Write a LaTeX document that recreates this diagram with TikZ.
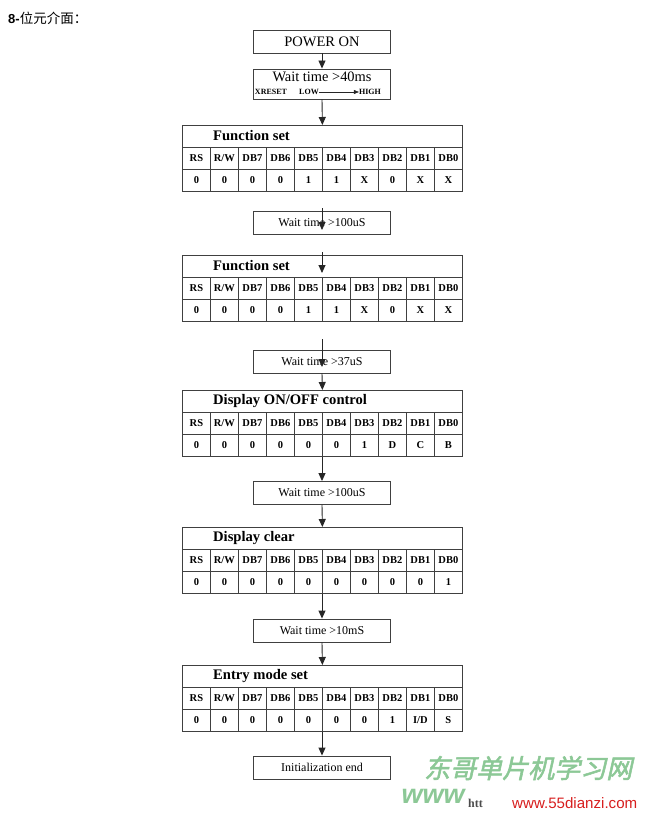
\documentclass[tikz,border=0pt]{standalone}
\usepackage{fontspec}
\setmainfont{Liberation Serif}
\newfontfamily\cjk{Noto Sans CJK SC}
\newfontfamily\cjkwm[FakeSlant=0.22,FakeBold=2]{Noto Sans CJK SC}
\newfontfamily\arialf{Liberation Sans}
\newfontfamily\arialwm[FakeSlant=0.2]{Liberation Sans}
\usetikzlibrary{arrows.meta}
\definecolor{lc}{gray}{0.25}
\definecolor{wmgreen}{RGB}{140,200,150}
\definecolor{wmred}{RGB}{215,30,30}
\newcommand\mytable[4]{%
  \node[ttl] (#1) at (182,#2) {};
  \node[anchor=west,font=\fontsize{14.6}{16}\selectfont\bfseries,inner sep=0pt] (#1t) at (213,#2+11) {#3};
  \foreach \h [count=\i from 0] in {RS,R/W,DB7,DB6,DB5,DB4,DB3,DB2,DB1,DB0}
    \node[cell] (#1h\i) at (182+28*\i,#2+22) {\h};
  \foreach \d [count=\i from 0] in {#4}
    \node[cell] (#1d\i) at (182+28*\i,#2+44) {\d};
}
\begin{document}
\begin{tikzpicture}[x=1pt,y=-1pt,
  box/.style={draw=lc,line width=0.9pt,minimum width=137pt,minimum height=23pt,inner sep=0pt,font=\fontsize{12}{14}\selectfont},
  cell/.style={draw=lc,line width=0.8pt,minimum width=28pt,minimum height=22pt,inner sep=0pt,anchor=north west,font=\fontsize{10.5}{12}\selectfont\bfseries},
  ttl/.style={draw=lc,line width=0.8pt,minimum width=280pt,minimum height=22pt,inner sep=0pt,anchor=north west},
  arr/.style={draw=black!85,line width=0.9pt,-{Triangle[width=7pt,length=8pt]}},
  small/.style={font=\fontsize{8}{9}\selectfont\bfseries,inner sep=0pt}
]
\useasboundingbox (0,0) rectangle (646,816);

% heading
\node[anchor=west,inner sep=0pt] (head) at (8,18) {\arialf\fontsize{13}{15}\selectfont\bfseries 8-\cjk\mdseries\fontsize{13.5}{15}\selectfont 位元介面：};

% boxes
\node[box,font=\fontsize{14.5}{16}\selectfont] (P) at (322,41.5) {POWER ON};
\node[box,minimum height=30pt] (W1) at (322,84) {};
\node[font=\fontsize{14.4}{16}\selectfont,inner sep=0pt] (W1a) at (322,77) {Wait time >40ms};
\node[small] (xr) at (271,92) {XRESET};
\node[small,anchor=west] (lo) at (299,92) {LOW};
\node[small] (hi) at (370,92) {HIGH};

\mytable{T1}{125}{Function set}{0,0,0,0,1,1,X,0,X,X}
\node[box] (W2) at (322,222.5) {Wait time >100uS};
\mytable{T2}{255}{Function set}{0,0,0,0,1,1,X,0,X,X}
\node[box] (W3) at (322,361.5) {Wait time >37uS};
\mytable{T3}{390}{Display ON/OFF control}{0,0,0,0,0,0,1,D,C,B}
\node[box] (W4) at (322,493) {Wait time >100uS};
\mytable{T4}{527}{Display clear}{0,0,0,0,0,0,0,0,0,1}
\node[box] (W5) at (322,630.5) {Wait time >10mS};
\mytable{T5}{665}{Entry mode set}{0,0,0,0,0,0,0,1,I/D,S}
\node[box] (E) at (322,767.5) {Initialization end};

% free-end coordinates
\coordinate (a1) at (322,208);
\coordinate (a2) at (322,230);
\coordinate (b1) at (322,252);
\coordinate (b2) at (322,273);
\coordinate (c1) at (322,339);
\coordinate (c2) at (322,367);

% connectors
\draw[draw=black!85,line width=0.6pt,-{Triangle[width=4pt,length=5pt]}] (lo.east) -- (hi.west);
\draw[arr] (P.south) -- (W1.north);
\draw[arr] (W1.south) -- (T1.north);
\draw[arr] (a1) -- (a2);
\draw[arr] (b1) -- (b2);
\draw[arr] (c1) -- (c2);
\draw[arr] (W3.south) -- (T3.north);
\draw[arr] (T3d5.south west) -- (W4.north);
\draw[arr] (W4.south) -- (T4.north);
\draw[arr] (T4d5.south west) -- (W5.north);
\draw[arr] (W5.south) -- (T5.north);
\draw[arr] (T5d5.south west) -- (E.north);

% watermark
\node[anchor=west,inner sep=0pt,text=wmgreen] (wm1) at (424,768) {\cjkwm\fontsize{26}{28}\selectfont 东哥单片机学习网};
\node[anchor=west,inner sep=0pt,text=wmgreen] (wm2) at (400,796) {\arialwm\fontsize{27}{30}\selectfont\bfseries www};
\node[anchor=west,inner sep=0pt,text=black!70] (wm3) at (468,803) {\fontsize{12}{14}\selectfont\bfseries htt};
\node[anchor=west,inner sep=0pt,text=wmred] (wm4) at (512,803) {\arialf\fontsize{15.1}{17}\selectfont www.55dianzi.com};
\end{tikzpicture}
\end{document}
